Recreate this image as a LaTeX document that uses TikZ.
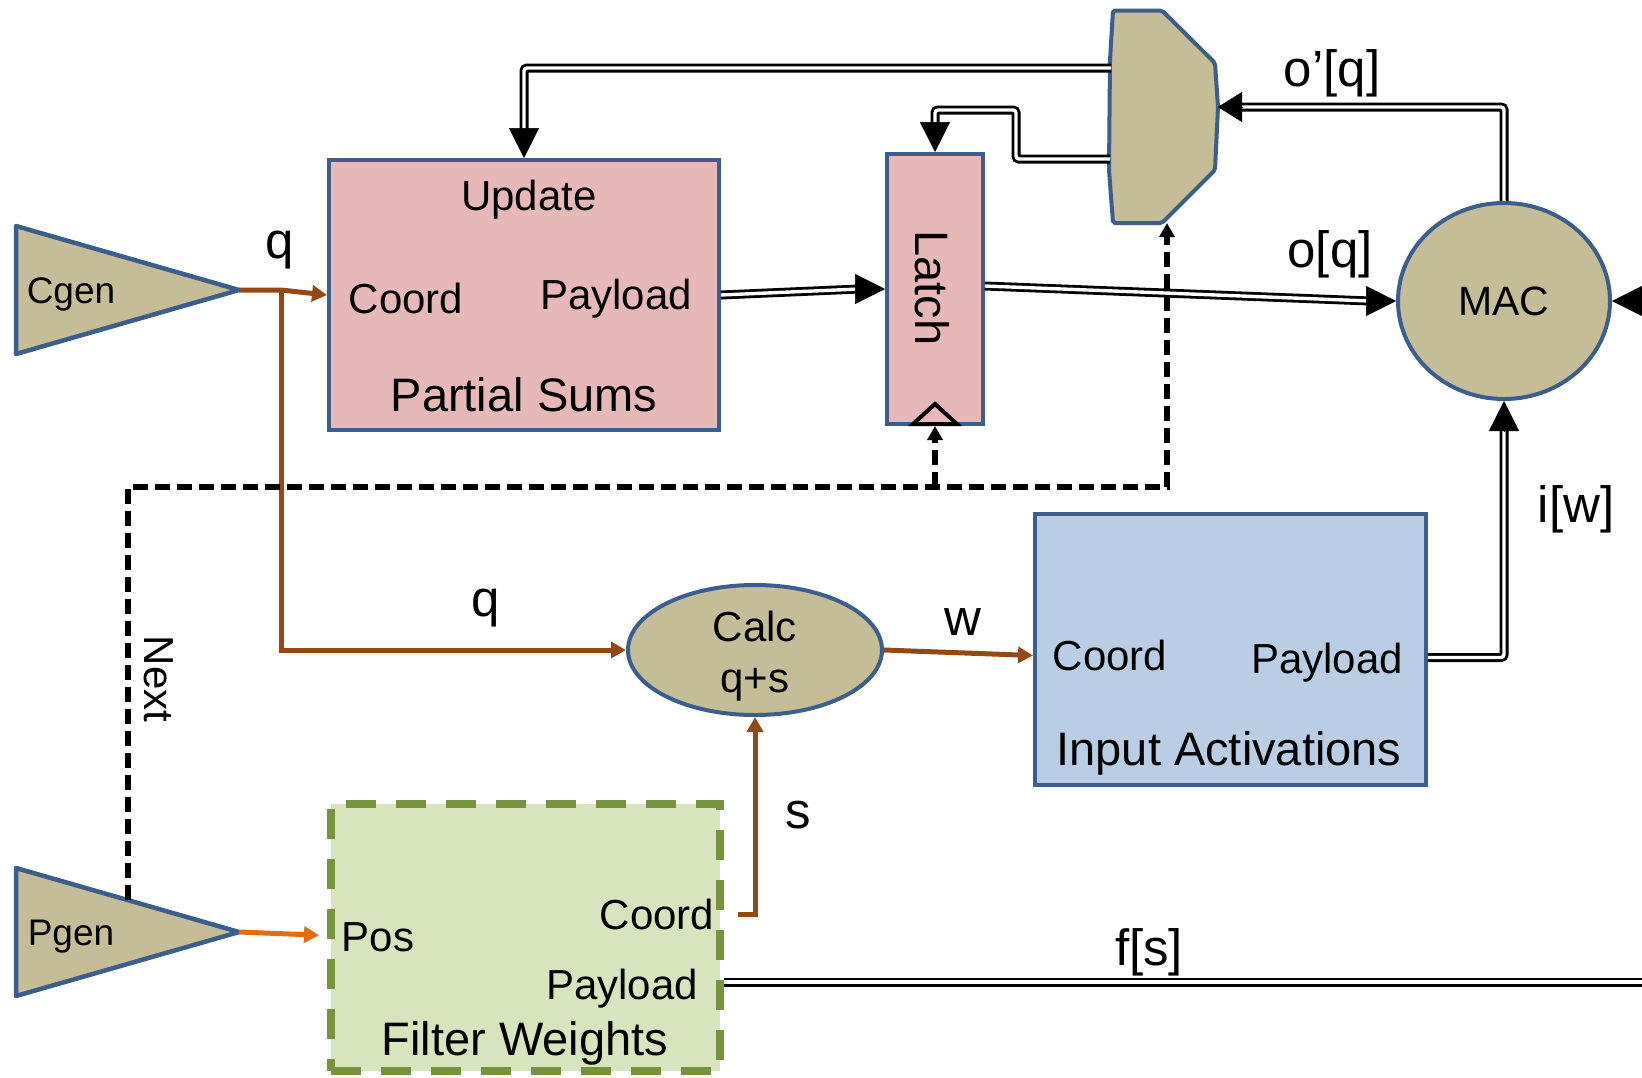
\documentclass[tikz,border=0pt]{standalone}
\usepackage{fontspec}
\setmainfont{Liberation Sans}
\usetikzlibrary{arrows.meta,shapes.geometric,calc}
\definecolor{tanf}{RGB}{196,189,151}
\definecolor{bord}{RGB}{59,94,140}
\definecolor{pinkf}{RGB}{230,185,184}
\definecolor{bluef}{RGB}{185,205,229}
\definecolor{greenf}{RGB}{215,228,189}
\definecolor{greenb}{RGB}{119,147,60}
\definecolor{brownl}{RGB}{148,72,20}
\definecolor{orangel}{RGB}{228,108,10}
\begin{document}
\begin{tikzpicture}[x=1pt,y=-1pt,
  blk/.style={draw=bord, line width=4pt, rectangle, inner sep=0pt},
  tw/.style={inner sep=0pt, font=\fontsize{42}{46}\selectfont},
  tb/.style={inner sep=0pt, font=\fontsize{47}{52}\selectfont},
  tl/.style={inner sep=0pt, font=\fontsize{51}{56}\selectfont},
  dbl/.style={draw=black, line width=2.8pt, double=white, double distance=3.4pt, rounded corners=3pt},
  bt/.style={-{Triangle[length=30pt,width=30pt]}, line width=0.5pt},
  qarrow/.style={draw=brownl, line width=5pt, -{Triangle[length=15pt,width=16pt]}},
  nextl/.style={draw=black, line width=5.3pt, dash pattern=on 15pt off 7pt},
  ntip/.style={-{Triangle[length=14pt,width=15pt]}},
]
\useasboundingbox (0,0) rectangle (1642,1077);
\clip (0,0) rectangle (1642,1077);

% ---- boxes
\node[blk, fill=pinkf, minimum width=390pt, minimum height=270pt] (ps) at (524,295) {};
\node[blk, fill=pinkf, minimum width=96pt, minimum height=270pt] (lat) at (935,289) {};
\node[blk, fill=bluef, minimum width=391pt, minimum height=271pt] (ia) at (1230.5,649.5) {};
\node[rectangle, inner sep=0pt, fill=greenf, draw=greenb, line width=8pt, dash pattern=on 30pt off 20pt,
      minimum width=389pt, minimum height=267pt] (fw) at (525.5,937.5) {};

% ---- generators
\draw[draw=bord, fill=tanf, line width=4.5pt, line join=round] (16,226) -- (239,290) -- (16,354) -- cycle;
\coordinate (cg) at (239,290);
\draw[draw=bord, fill=tanf, line width=4.5pt, line join=round] (16,868) -- (239,932) -- (16,996) -- cycle;
\coordinate (pg) at (239,932);

% ---- mux
\draw[draw=bord, fill=tanf, line width=4pt, rounded corners=2pt]
  (1113,10.5) -- (1162,10.5) -- (1215,63) -- (1218,107) -- (1215,170) -- (1162,223) -- (1113,223)
  -- (1109,170) -- (1110,60) -- cycle;
\coordinate (muxo1) at (1111,68);
\coordinate (muxo2) at (1110,159);
\coordinate (muxin) at (1218,107);
\coordinate (muxbot) at (1167,223);

% ---- MAC and Calc
\node[ellipse, draw=bord, fill=tanf, line width=4pt, inner sep=0pt, minimum width=212pt, minimum height=196pt,
      font=\fontsize{41}{46}\selectfont] (mac) at (1504,301) {MAC};
\node[ellipse, draw=bord, fill=tanf, line width=4pt, inner sep=0pt, minimum width=254pt, minimum height=130pt] (calc) at (755,650) {};

% ---- texts
\node[tw] (tcg) at (71,294) {\fontsize{37}{40}\selectfont Cgen};
\node[tw] (tpg) at (71,937) {\fontsize{37}{40}\selectfont Pgen};
\node[tw] (tupd) at (529,200) {Update};
\node[tw] (tpsc) at (406,298) {Coord};
\node[tw] (tpsp) at (616,299) {Payload};
\node[tb] (tps) at (524,395) {Partial Sums};
\node[tb, rotate=-90] (tlat) at (932,288) {Latch};
\node[tw] (tiac) at (1110,655) {Coord};
\node[tw] (tiap) at (1327,663) {Payload};
\node[tb] (tia) at (1229,753) {Input Activations};
\node[tw] (tpos) at (378,937) {Pos};
\node[tw] (tfwc) at (657,914) {Coord};
\node[tw] (tfwp) at (622,989) {Payload};
\node[tb] (tfw) at (525,1043) {Filter Weights};
\node[tw] (tcalc) at (755,626) {Calc};
\node[tw] (tqs) at (755,685) {q+s};
\node[tw, rotate=-90] (tnext) at (159,679) {Next};
\node[tl] (lq1) at (280,250) {q};
\node[tl] (lq2) at (486,608) {q};
\node[tl] (lw) at (963,622) {w};
\node[tl] (ls) at (798,815) {s};
\node[tl] (loq2) at (1332,73) {o’[q]};
\node[tl] (loq) at (1330,254) {o[q]};
\node[tl] (liw) at (1576,509) {i[w]};
\node[tl] (lfs) at (1149,952) {f[s]};

% ---- double (data) connectors
\draw[dbl] (muxo1) -| ($(ps.north)+(0,-26)$);
\draw[bt] ($(ps.north)+(0,-30)$) -- (ps.north);
\draw[dbl] (muxo2) -- (1016,159) -- (1016,110) -| ($(lat.north)+(0,-26)$);
\draw[bt] ($(lat.north)+(0,-30)$) -- (lat.north);
\draw[dbl] (ps.east) -- ($(lat.west)+(-26,0)$);
\draw[bt] ($(lat.west)+(-30,0)$) -- (lat.west);
\draw[dbl] ($(lat.east)+(0,-3)$) -- ($(mac.west)+(-26,0)$);
\draw[bt] ($(mac.west)+(-30,0)$) -- (mac.west);
\draw[dbl] (mac.north) |- ($(muxin)+(20,0)$);
\draw[-{Triangle[length=24pt,width=30pt]}, line width=0.5pt] ($(muxin)+(24,0)$) -- (muxin);
\draw[dbl] ($(ia.east)+(0,8)$) -| ($(mac.south)+(0,26)$);
\draw[bt] ($(mac.south)+(0,30)$) -- (mac.south);
\coordinate (macr) at (1720,301);
\draw[dbl] (macr) -- ($(mac.east)+(26,0)$);
\draw[bt] ($(mac.east)+(30,0)$) -- (mac.east);
\coordinate (fsr) at (1720,982);
\draw[dbl] ($(fw.east)+(0,44.5)$) -- (fsr);

% ---- coordinate connectors
\coordinate (qj) at (281,290);
\draw[qarrow] (cg) -- (qj) -- (ps.west);
\draw[qarrow] (qj) |- (calc.west);
\draw[qarrow] (calc.east) -- ($(ia.west)+(0,6)$);
\coordinate (fwc) at (738,914);
\draw[qarrow] (fwc) -| (calc.south);
\draw[draw=orangel, line width=5pt, -{Triangle[length=15pt,width=16pt]}, shorten >=8pt] (pg) -- ($(fw.west)+(0,-2)$);

% ---- Next (dashed)
\coordinate (nx) at (128,900);
\coordinate (nrow) at (0,487);
\draw[nextl, ntip] (nx) |- (muxbot |- nrow) -- (muxbot);
\draw[nextl, ntip] (lat.south |- nrow) -- (lat.south);
\draw[line width=4pt, fill=pinkf, line join=miter] ($(lat.south)+(-22,-2)$) -- ($(lat.south)+(0,-22)$) -- ($(lat.south)+(22,-2)$) -- cycle;
\end{tikzpicture}
\end{document}
